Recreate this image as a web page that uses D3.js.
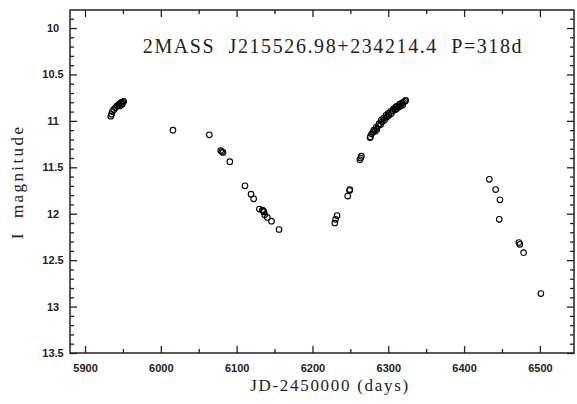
<!DOCTYPE html>
<html>
<head>
<meta charset="utf-8">
<script src="https://cdn.jsdelivr.net/npm/d3@7"></script>
<style>
  body { margin: 0; background: #fff; }
  svg { display: block; }
  .tick text { font-family: "Liberation Sans", Arial, sans-serif; font-size: 11px; font-weight: bold; fill: #222; }
  .lbl { font-family: "Liberation Serif", "DejaVu Serif", serif; fill: #222; }
</style>
</head>
<body>
<div id="chart"></div>
<script>
const w = 577;
const h = 404;
const m = {left: 70, right: 3, top: 10, bottom: 51};

// observation dates (JD-2450000) and I magnitudes
const jd = [
  5934, 5935, 5936, 5938, 5940, 5942, 5944, 5945, 5946, 5947, 5948, 5949, 5950, 5951,
  6016,
  6064, 6079, 6080.5, 6082, 6091,
  6111, 6119, 6122.5, 6130, 6134, 6135, 6136, 6137, 6140.5, 6146, 6156,
  6229.5, 6230.5, 6232.5, 6246.5, 6249, 6249.3,
  6262.5, 6263.5, 6264.5,
  6276, 6276.5, 6278, 6280, 6281, 6283, 6284, 6285, 6287, 6288, 6290, 6291, 6292, 6294,
  6295, 6297, 6298, 6300, 6301, 6303, 6304, 6306, 6307, 6309, 6310, 6311, 6312, 6314,
  6315, 6316, 6318, 6319, 6320, 6322, 6323,
  6433.3, 6441.6, 6447.3, 6446.4, 6472.3, 6473.6, 6478.5, 6501.3
];
const imag = [
  10.95, 10.93, 10.90, 10.88, 10.86, 10.84, 10.83, 10.82, 10.84, 10.81, 10.80, 10.82, 10.80, 10.79,
  11.10,
  11.15, 11.32, 11.33, 11.34, 11.44,
  11.70, 11.79, 11.84, 11.95, 11.96, 11.97, 11.98, 12.01, 12.04, 12.08, 12.17,
  12.10, 12.06, 12.02, 11.81, 11.75, 11.74,
  11.42, 11.40, 11.38,
  11.18, 11.17, 11.14, 11.12, 11.10, 11.11, 11.07, 11.09, 11.05, 11.03, 11.04, 10.99, 11.01, 10.97,
  10.99, 10.94, 10.96, 10.92, 10.94, 10.90, 10.92, 10.89, 10.87, 10.88, 10.85, 10.87, 10.84, 10.85,
  10.82, 10.84, 10.81, 10.83, 10.80, 10.79, 10.78,
  11.63, 11.74, 11.85, 12.06, 12.31, 12.33, 12.42, 12.86
];
const xTicks = [5900, 6000, 6100, 6200, 6300, 6400, 6500];
const xMinor = [5950, 6050, 6150, 6250, 6350, 6450];
const yTicks = [10, 10.5, 11, 11.5, 12, 12.5, 13, 13.5];
const yMinor = d3.range(9.9, 13.45, 0.1).map(v => +v.toFixed(1)).filter(v => !yTicks.includes(v));

const title = "2MASS\u00a0\u00a0J215526.98+234214.4\u00a0\u00a0P=318d";

let svg = d3.select("#chart").append("svg").attr("width", w).attr("height", h);

let x = d3.scaleLinear().domain([5880.2, 6545]).range([m.left, w - m.right]);
let y = d3.scaleLinear().domain([9.806, 13.5]).range([m.top, h - m.bottom]);

function ax(g, gen) {
  g.call(gen);
  g.select(".domain").remove();
  g.selectAll(".tick line").attr("stroke", "#222").attr("stroke-width", 1.3);
}

// bottom + top
svg.append("g").attr("transform", "translate(0," + (h - m.bottom) + ")")
  .call(g => ax(g, d3.axisBottom(x).tickValues(xTicks).tickSize(-7).tickPadding(11).tickFormat(d3.format("d"))));
svg.append("g").attr("transform", "translate(0," + (h - m.bottom) + ")")
  .call(g => ax(g, d3.axisBottom(x).tickValues(xMinor).tickSize(-4).tickFormat("")));
svg.append("g").attr("transform", "translate(0," + m.top + ")")
  .call(g => ax(g, d3.axisTop(x).tickValues(xTicks).tickSize(-7).tickFormat("")));
svg.append("g").attr("transform", "translate(0," + m.top + ")")
  .call(g => ax(g, d3.axisTop(x).tickValues(xMinor).tickSize(-4).tickFormat("")));

// left + right
let yl = svg.append("g").attr("transform", "translate(" + m.left + ",0)");
ax(yl, d3.axisLeft(y).tickValues(yTicks).tickSize(-7).tickFormat(d => d3.format("")(d)));
yl.selectAll(".tick text").attr("text-anchor", "middle").attr("x", -17);
svg.append("g").attr("transform", "translate(" + m.left + ",0)")
  .call(g => ax(g, d3.axisLeft(y).tickValues(yMinor).tickSize(-4).tickFormat("")));
svg.append("g").attr("transform", "translate(" + (w - m.right) + ",0)")
  .call(g => ax(g, d3.axisRight(y).tickValues(yTicks).tickSize(-7).tickFormat("")));
svg.append("g").attr("transform", "translate(" + (w - m.right) + ",0)")
  .call(g => ax(g, d3.axisRight(y).tickValues(yMinor).tickSize(-4).tickFormat("")));

svg.append("rect").attr("x", m.left).attr("y", m.top)
  .attr("width", w - m.left - m.right).attr("height", h - m.top - m.bottom)
  .attr("fill", "none").attr("stroke", "#222").attr("stroke-width", 1.5);

svg.selectAll("circle.pt").data(jd)
  .enter().append("circle").attr("class", "pt")
  .attr("cx", (d) => x(d)).attr("cy", (d, i) => y(imag[i]))
  .attr("r", 2.8).attr("fill", "none").attr("stroke", "#000").attr("stroke-width", 1.1);

svg.append("text").attr("class", "lbl").attr("x", 333).attr("y", 53)
  .attr("text-anchor", "middle").attr("font-size", 20).attr("letter-spacing", 1.6).text(title);

svg.append("text").attr("class", "lbl").attr("x", 330).attr("y", 391)
  .attr("text-anchor", "middle").attr("font-size", 17).attr("letter-spacing", 1.7).text("JD-2450000 (days)");

svg.append("text").attr("class", "lbl")
  .attr("transform", "translate(23," + 182 + ") rotate(-90)")
  .attr("text-anchor", "middle").attr("font-size", 17).attr("letter-spacing", 2.4).text("I\u00a0\u00a0magnitude");
</script>
</body>
</html>
